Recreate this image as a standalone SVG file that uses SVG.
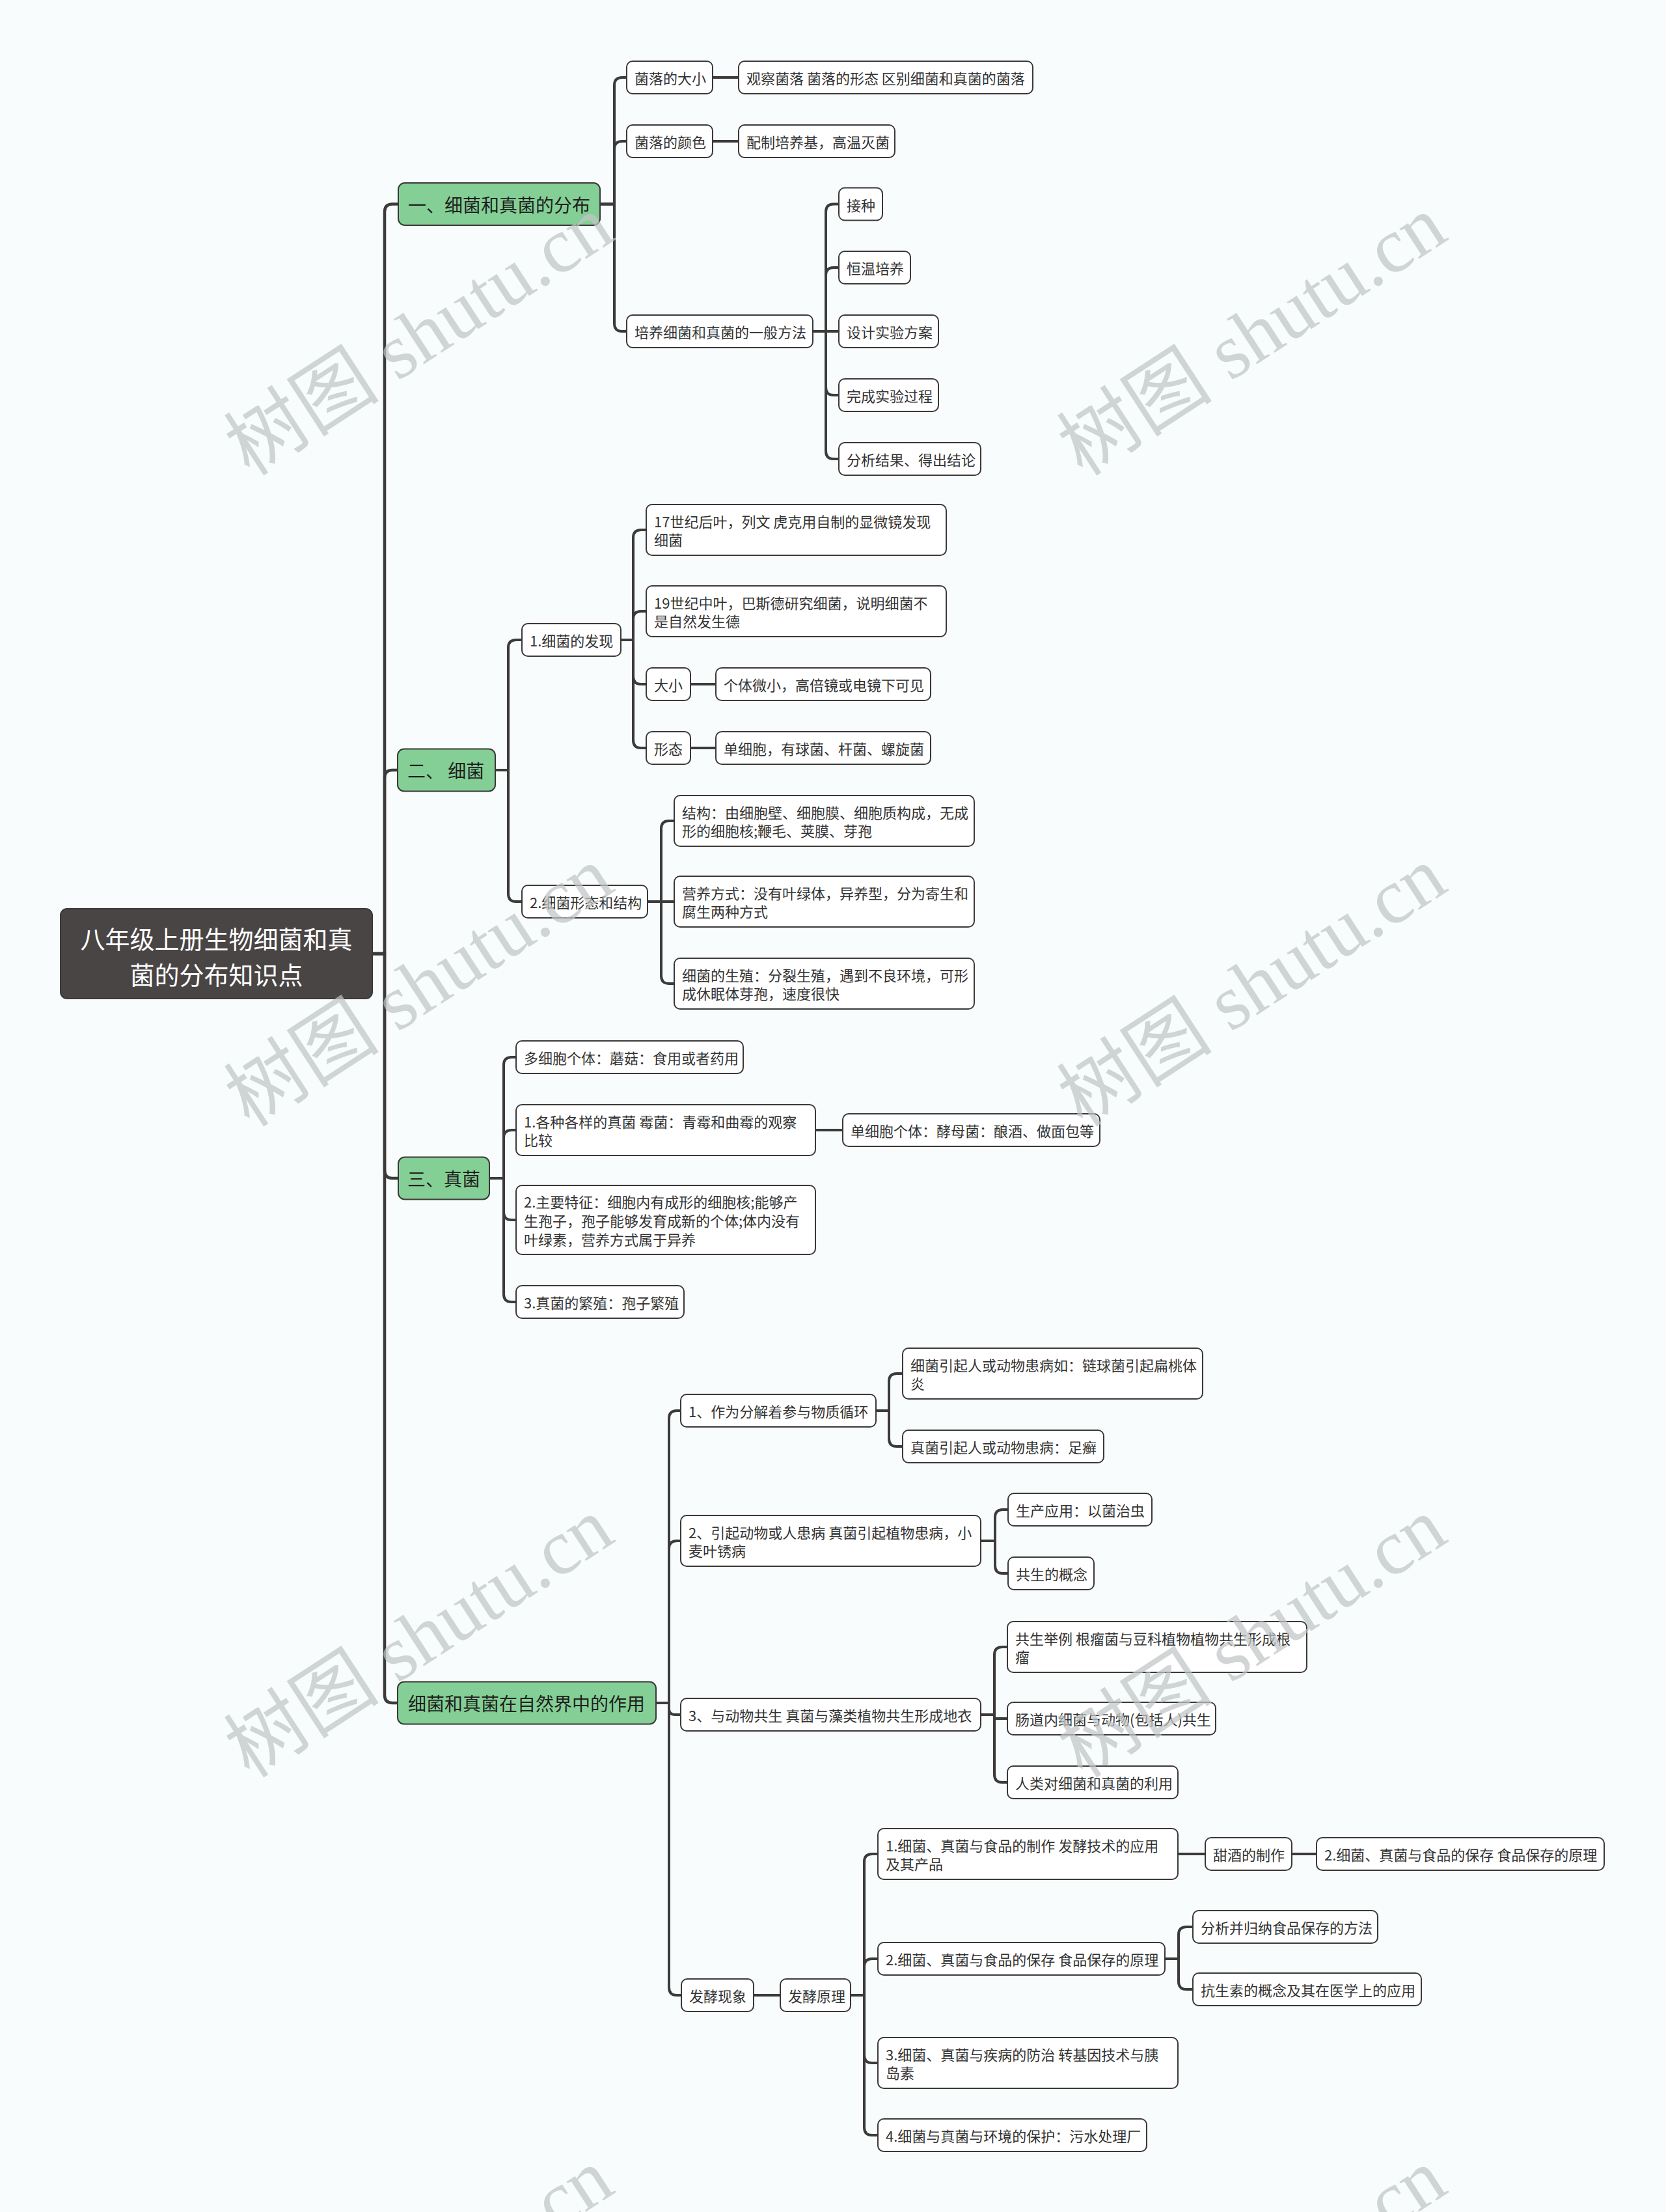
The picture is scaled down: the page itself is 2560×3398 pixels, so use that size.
<svg xmlns="http://www.w3.org/2000/svg" width="2560" height="3398" viewBox="0 0 2560 3398">
<style>
.bg{fill:#f8fcfd}
.n rect{fill:#ffffff;stroke:#3b3838;stroke-width:2}
.g rect{fill:#84cf95;stroke:#3b3838;stroke-width:2}
.r rect{fill:#4a4545;stroke:#3b3838;stroke-width:2}
text{font-family:"Noto Sans CJK SC","Noto Sans",sans-serif}
.n text{font-size:22px;fill:#333333;dominant-baseline:central}
.g text{font-size:28px;fill:#1f1f1f;dominant-baseline:central}
.r text{font-size:38px;fill:#ffffff;dominant-baseline:central;text-anchor:middle}
#connectors path{fill:none;stroke:#3d3a3a;stroke-width:4;stroke-linecap:round;stroke-linejoin:round}
#connectors path.spine{stroke-width:4.5}
.wm{font-family:"Liberation Serif","Noto Sans CJK SC",serif;font-size:120px;fill:#bfc5c5;fill-opacity:0.72;text-anchor:middle;dominant-baseline:central}
</style>
<rect class="bg" x="0" y="0" width="2560" height="3398"/>

<g id="connectors">
<path class="spine" d="M572 1465 H591 V325.5 Q591 313.5 603 313.5 H612"/>
<path class="spine" d="M572 1465 H591 V1195 Q591 1183 603 1183 H611"/>
<path class="spine" d="M572 1465 H591 V1798 Q591 1810 603 1810 H612"/>
<path class="spine" d="M572 1465 H591 V2604 Q591 2616 603 2616 H611"/>

<path d="M922 313.5 H944 V131 Q944 119 956 119 H963"/>
<path d="M922 313.5 H944 V229 Q944 217 956 217 H963"/>
<path d="M922 313.5 H944 V497 Q944 509 956 509 H963"/>
<path d="M1095 119 H1135"/>
<path d="M1095 217 H1135"/>
<path d="M1249 509 H1269 V325.5 Q1269 313.5 1281 313.5 H1289"/>
<path d="M1249 509 H1269 V423 Q1269 411 1281 411 H1289"/>
<path d="M1249 509 H1289"/>
<path d="M1249 509 H1269 V595 Q1269 607 1281 607 H1289"/>
<path d="M1249 509 H1269 V693 Q1269 705 1281 705 H1289"/>

<path d="M761 1183 H781 V995 Q781 983 793 983 H802"/>
<path d="M761 1183 H781 V1373 Q781 1385 793 1385 H802"/>
<path d="M954 983 H973 V826 Q973 814 985 814 H993"/>
<path d="M954 983 H973 V951 Q973 939 985 939 H993"/>
<path d="M954 983 H973 V1039 Q973 1051 985 1051 H993"/>
<path d="M954 983 H973 V1137 Q973 1149 985 1149 H993"/>
<path d="M1061 1051 H1100"/>
<path d="M1061 1149 H1100"/>
<path d="M995 1385 H1016 V1273 Q1016 1261 1028 1261 H1036"/>
<path d="M995 1385 H1036"/>
<path d="M995 1385 H1016 V1499 Q1016 1511 1028 1511 H1036"/>

<path d="M752 1810 H774 V1636 Q774 1624 786 1624 H793"/>
<path d="M752 1810 H774 V1748 Q774 1736 786 1736 H793"/>
<path d="M752 1810 H774 V1862 Q774 1874 786 1874 H793"/>
<path d="M752 1810 H774 V1988 Q774 2000 786 2000 H793"/>
<path d="M1253 1736 H1295"/>

<path d="M1008 2616 H1028 V2179 Q1028 2167 1040 2167 H1046"/>
<path d="M1008 2616 H1028 V2379 Q1028 2367 1040 2367 H1046"/>
<path d="M1008 2616 H1028 V2625 Q1028 2634 1037 2634 H1046"/>
<path d="M1008 2616 H1028 V3053 Q1028 3065 1040 3065 H1047"/>
<path d="M1346 2167 H1366 V2122 Q1366 2110 1378 2110 H1387"/>
<path d="M1346 2167 H1366 V2210 Q1366 2222 1378 2222 H1387"/>
<path d="M1507 2367 H1529 V2331 Q1529 2319 1541 2319 H1549"/>
<path d="M1507 2367 H1529 V2405 Q1529 2417 1541 2417 H1549"/>
<path d="M1507 2634 H1528 V2542 Q1528 2530 1540 2530 H1548"/>
<path d="M1507 2634 H1528 V2637 Q1528 2640 1531 2640 H1548"/>
<path d="M1507 2634 H1528 V2726 Q1528 2738 1540 2738 H1548"/>
<path d="M1158 3065 H1199"/>
<path d="M1307 3065 H1328 V2860 Q1328 2848 1340 2848 H1349"/>
<path d="M1307 3065 H1328 V3021 Q1328 3009 1340 3009 H1349"/>
<path d="M1307 3065 H1328 V3157 Q1328 3169 1340 3169 H1349"/>
<path d="M1307 3065 H1328 V3268 Q1328 3280 1340 3280 H1349"/>
<path d="M1810 2848 H1852"/>
<path d="M1985 2848 H2023"/>
<path d="M1790 3009 H1811 V2972 Q1811 2960 1823 2960 H1833"/>
<path d="M1790 3009 H1811 V3044 Q1811 3056 1823 3056 H1833"/>
</g>

<g id="root" class="r"><rect x="93" y="1396" width="479" height="138" rx="10"/><text x="332.5" y="1440">八年级上册生物细菌和真</text><text x="332.5" y="1495">菌的分布知识点</text></g>

<g id="n1" class="g"><rect x="612" y="281" width="310" height="65" rx="10"/><text x="627" y="313.5">一、细菌和真菌的分布</text></g>
<g id="n1a" class="n"><rect x="963" y="94" width="132" height="50" rx="9"/><text x="975" y="119">菌落的大小</text></g>
<g id="n1a1" class="n"><rect x="1135" y="94" width="452" height="50" rx="9"/><text x="1147" y="119">观察菌落 菌落的形态 区别细菌和真菌的菌落</text></g>
<g id="n1b" class="n"><rect x="963" y="192" width="132" height="50" rx="9"/><text x="975" y="217">菌落的颜色</text></g>
<g id="n1b1" class="n"><rect x="1135" y="192" width="240" height="50" rx="9"/><text x="1147" y="217">配制培养基，高温灭菌</text></g>
<g id="n1c" class="n"><rect x="963" y="484" width="286" height="50" rx="9"/><text x="975" y="509">培养细菌和真菌的一般方法</text></g>
<g id="n1c1" class="n"><rect x="1289" y="288.5" width="67" height="50" rx="9"/><text x="1301" y="313.5">接种</text></g>
<g id="n1c2" class="n"><rect x="1289" y="386" width="110" height="50" rx="9"/><text x="1301" y="411">恒温培养</text></g>
<g id="n1c3" class="n"><rect x="1289" y="484" width="153" height="50" rx="9"/><text x="1301" y="509">设计实验方案</text></g>
<g id="n1c4" class="n"><rect x="1289" y="582" width="153" height="50" rx="9"/><text x="1301" y="607">完成实验过程</text></g>
<g id="n1c5" class="n"><rect x="1289" y="680" width="218" height="50" rx="9"/><text x="1301" y="705">分析结果、得出结论</text></g>

<g id="n2" class="g"><rect x="611" y="1150.5" width="150" height="65" rx="10"/><text x="626" y="1183">二、 细菌</text></g>
<g id="n2a" class="n"><rect x="802" y="958" width="152" height="50" rx="9"/><text x="814" y="983">1.细菌的发现</text></g>
<g id="n2a1" class="n"><rect x="993" y="775" width="461" height="78" rx="9"/><text x="1005" y="800">17世纪后叶，列文 虎克用自制的显微镜发现</text><text x="1005" y="828">细菌</text></g>
<g id="n2a2" class="n"><rect x="993" y="900" width="461" height="78" rx="9"/><text x="1005" y="925">19世纪中叶，巴斯德研究细菌，说明细菌不</text><text x="1005" y="953">是自然发生德</text></g>
<g id="n2a3" class="n"><rect x="993" y="1026" width="68" height="50" rx="9"/><text x="1005" y="1051">大小</text></g>
<g id="n2a3a" class="n"><rect x="1100" y="1026" width="330" height="50" rx="9"/><text x="1112" y="1051">个体微小，高倍镜或电镜下可见</text></g>
<g id="n2a4" class="n"><rect x="993" y="1124" width="68" height="50" rx="9"/><text x="1005" y="1149">形态</text></g>
<g id="n2a4a" class="n"><rect x="1100" y="1124" width="330" height="50" rx="9"/><text x="1112" y="1149">单细胞，有球菌、杆菌、螺旋菌</text></g>
<g id="n2b" class="n"><rect x="802" y="1360" width="193" height="50" rx="9"/><text x="814" y="1385">2.细菌形态和结构</text></g>
<g id="n2b1" class="n"><rect x="1036" y="1222" width="461" height="78" rx="9"/><text x="1048" y="1247">结构：由细胞壁、细胞膜、细胞质构成，无成</text><text x="1048" y="1275">形的细胞核;鞭毛、荚膜、芽孢</text></g>
<g id="n2b2" class="n"><rect x="1036" y="1346" width="461" height="78" rx="9"/><text x="1048" y="1371">营养方式：没有叶绿体，异养型，分为寄生和</text><text x="1048" y="1399">腐生两种方式</text></g>
<g id="n2b3" class="n"><rect x="1036" y="1472" width="461" height="78" rx="9"/><text x="1048" y="1497">细菌的生殖：分裂生殖，遇到不良环境，可形</text><text x="1048" y="1525">成休眠体芽孢，速度很快</text></g>

<g id="n3" class="g"><rect x="612" y="1777.5" width="140" height="65" rx="10"/><text x="626" y="1810">三、真菌</text></g>
<g id="n3a" class="n"><rect x="793" y="1599" width="349" height="50" rx="9"/><text x="805" y="1624">多细胞个体：蘑菇：食用或者药用</text></g>
<g id="n3b" class="n"><rect x="793" y="1697" width="460" height="78" rx="9"/><text x="805" y="1722">1.各种各样的真菌 霉菌：青霉和曲霉的观察</text><text x="805" y="1750">比较</text></g>
<g id="n3b1" class="n"><rect x="1295" y="1711" width="395" height="50" rx="9"/><text x="1307" y="1736">单细胞个体：酵母菌：酿酒、做面包等</text></g>
<g id="n3c" class="n"><rect x="793" y="1821" width="460" height="106" rx="9"/><text x="805" y="1845">2.主要特征：细胞内有成形的细胞核;能够产</text><text x="805" y="1874">生孢子，孢子能够发育成新的个体;体内没有</text><text x="805" y="1903">叶绿素，营养方式属于异养</text></g>
<g id="n3d" class="n"><rect x="793" y="1975" width="258" height="50" rx="9"/><text x="805" y="2000">3.真菌的繁殖：孢子繁殖</text></g>

<g id="n4" class="g"><rect x="611" y="2583.5" width="397" height="65" rx="10"/><text x="627" y="2616">细菌和真菌在自然界中的作用</text></g>
<g id="n4a" class="n"><rect x="1046" y="2142" width="300" height="50" rx="9"/><text x="1058" y="2167">1、作为分解着参与物质循环</text></g>
<g id="n4a1" class="n"><rect x="1387" y="2071" width="461" height="78" rx="9"/><text x="1399" y="2096">细菌引起人或动物患病如：链球菌引起扁桃体</text><text x="1399" y="2124">炎</text></g>
<g id="n4a2" class="n"><rect x="1387" y="2197" width="309" height="50" rx="9"/><text x="1399" y="2222">真菌引起人或动物患病：足癣</text></g>
<g id="n4b" class="n"><rect x="1046" y="2328" width="461" height="78" rx="9"/><text x="1058" y="2353">2、引起动物或人患病 真菌引起植物患病，小</text><text x="1058" y="2381">麦叶锈病</text></g>
<g id="n4b1" class="n"><rect x="1549" y="2294" width="221" height="50" rx="9"/><text x="1561" y="2319">生产应用：以菌治虫</text></g>
<g id="n4b2" class="n"><rect x="1549" y="2392" width="132" height="50" rx="9"/><text x="1561" y="2417">共生的概念</text></g>
<g id="n4c" class="n"><rect x="1046" y="2609" width="461" height="50" rx="9"/><text x="1058" y="2634">3、与动物共生 真菌与藻类植物共生形成地衣</text></g>
<g id="n4c1" class="n"><rect x="1548" y="2491" width="460" height="78" rx="9"/><text x="1560" y="2516">共生举例 根瘤菌与豆科植物植物共生形成根</text><text x="1560" y="2544">瘤</text></g>
<g id="n4c2" class="n"><rect x="1548" y="2615" width="320" height="50" rx="9"/><text x="1560" y="2640">肠道内细菌与动物(包括人)共生</text></g>
<g id="n4c3" class="n"><rect x="1548" y="2713" width="262" height="50" rx="9"/><text x="1560" y="2738">人类对细菌和真菌的利用</text></g>
<g id="n4d" class="n"><rect x="1047" y="3040" width="111" height="50" rx="9"/><text x="1059" y="3065">发酵现象</text></g>
<g id="n4d1" class="n"><rect x="1199" y="3040" width="108" height="50" rx="9"/><text x="1211" y="3065">发酵原理</text></g>
<g id="n4d1a" class="n"><rect x="1349" y="2809" width="461" height="78" rx="9"/><text x="1361" y="2834">1.细菌、真菌与食品的制作 发酵技术的应用</text><text x="1361" y="2862">及其产品</text></g>
<g id="n4d1a1" class="n"><rect x="1852" y="2823" width="133" height="50" rx="9"/><text x="1864" y="2848">甜酒的制作</text></g>
<g id="n4d1a1a" class="n"><rect x="2023" y="2823" width="442" height="50" rx="9"/><text x="2035" y="2848">2.细菌、真菌与食品的保存 食品保存的原理</text></g>
<g id="n4d1b" class="n"><rect x="1349" y="2984" width="441" height="50" rx="9"/><text x="1361" y="3009">2.细菌、真菌与食品的保存 食品保存的原理</text></g>
<g id="n4d1b1" class="n"><rect x="1833" y="2935" width="284" height="50" rx="9"/><text x="1845" y="2960">分析并归纳食品保存的方法</text></g>
<g id="n4d1b2" class="n"><rect x="1833" y="3031" width="351" height="50" rx="9"/><text x="1845" y="3056">抗生素的概念及其在医学上的应用</text></g>
<g id="n4d1c" class="n"><rect x="1349" y="3130" width="461" height="78" rx="9"/><text x="1361" y="3155">3.细菌、真菌与疾病的防治 转基因技术与胰</text><text x="1361" y="3183">岛素</text></g>
<g id="n4d1d" class="n"><rect x="1349" y="3255" width="413" height="50" rx="9"/><text x="1361" y="3280">4.细菌与真菌与环境的保护：污水处理厂</text></g>

<g id="watermarks">
<text class="wm" x="644" y="516" transform="rotate(-33 644 516)">树图 shutu.cn</text>
<text class="wm" x="1924" y="516" transform="rotate(-33 1924 516)">树图 shutu.cn</text>
<text class="wm" x="644" y="1516" transform="rotate(-33 644 1516)">树图 shutu.cn</text>
<text class="wm" x="1924" y="1516" transform="rotate(-33 1924 1516)">树图 shutu.cn</text>
<text class="wm" x="644" y="2516" transform="rotate(-33 644 2516)">树图 shutu.cn</text>
<text class="wm" x="1924" y="2516" transform="rotate(-33 1924 2516)">树图 shutu.cn</text>
<text class="wm" x="644" y="3516" transform="rotate(-33 644 3516)">树图 shutu.cn</text>
<text class="wm" x="1924" y="3516" transform="rotate(-33 1924 3516)">树图 shutu.cn</text>
</g>
</svg>
